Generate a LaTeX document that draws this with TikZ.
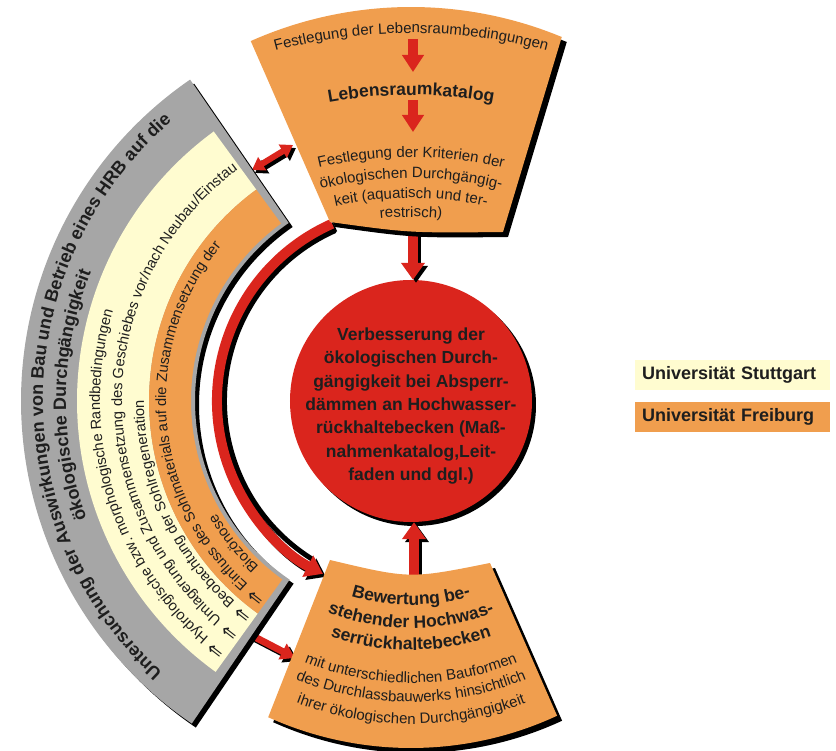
\documentclass[tikz,border=0pt]{standalone}
\usepackage{fontspec}
\setmainfont{Liberation Sans}
\newfontfamily\arrowfont{DejaVu Sans}
\usetikzlibrary{arrows.meta,decorations.text}

\definecolor{orangeF}{RGB}{240,158,78}
\definecolor{yellowS}{RGB}{255,252,208}
\definecolor{grayB}{RGB}{166,166,166}
\definecolor{redC}{RGB}{218,37,29}
\definecolor{inkC}{RGB}{30,30,30}

\newcommand\gbtxt{\fontsize{18}{21}\selectfont\bfseries}
\newcommand\lsttxt{\fontsize{14.7}{17}\selectfont}
\newcommand\lstarr{\arrowfont\fontsize{19}{19}\selectfont}
\newcommand\sectxt{\fontsize{15}{18}\selectfont}
\newcommand\secbold{\fontsize{17.5}{20}\selectfont\bfseries}

\begin{document}
\begin{tikzpicture}[
  x=1pt,y=1pt,
  shadow/.style={draw=black,transform canvas={xshift=3pt,yshift=-3pt}},
  bigarrow/.style={draw=redC,line width=10pt,-{Triangle[length=17pt,width=23pt]}},
  smallarrow/.style={draw=redC,line width=10pt,-{Triangle[length=17pt,width=21pt]}},
  linkarrow/.style={draw=redC,line width=6pt,{Triangle[length=12pt,width=15pt]}-{Triangle[length=12pt,width=15pt]}},
  sidearrow/.style={draw=redC,line width=7pt,-{Triangle[length=14pt,width=17pt]}},
  arctext/.style={decorate,decoration={text along path,text color=inkC,text align=center,text={#1}}},
  listline/.style={decorate,decoration={text along path,text color=inkC,text align=left,text={#1}}},
  legend/.style={anchor=west,minimum width=195pt,minimum height=30pt,inner xsep=7pt,text width=181pt,text=inkC,font=\fontsize{18}{20}\selectfont\bfseries}
]
  \useasboundingbox (-411,-350) rectangle (425,401);

  % goal in the middle
  \fill[black] (4,-4) circle[radius=121];
  \node[circle,fill=redC,minimum size=242pt,inner sep=0pt] (goal) at (0,0) {};
  \node[align=center,text=inkC,font=\fontsize{17.5}{23.4}\selectfont\bfseries] (goaltext) at (0,-5)
    {Verbesserung der\\ökologischen Durch-\\gängigkeit bei Absperr-\\dämmen an Hochwasser-\\rückhaltebecken (Maß-\\nahmenkatalog,Leit-\\faden und dgl.)};

  % ring on the left
  \coordinate (ringtop) at (114:194);
  \draw[black,line width=5pt] (114:186.5) arc[start angle=114,end angle=238,radius=186.5];
  \draw[bigarrow,shadow] (ringtop) arc[start angle=114,end angle=243,radius=194];
  \draw[bigarrow] (ringtop) arc[start angle=114,end angle=243,radius=194];

  % arrows into the goal
  \coordinate (topfoot) at (2,190);
  \coordinate (botfoot) at (3,-180);
  \draw[bigarrow,shadow] (topfoot) -- (topfoot |- goal.north);
  \draw[bigarrow] (topfoot) -- (topfoot |- goal.north);
  \draw[bigarrow,shadow] (botfoot) -- (botfoot |- goal.south);
  \draw[bigarrow] (botfoot) -- (botfoot |- goal.south);

  % links between the sectors
  \coordinate (linkL) at (-159,231);
  \coordinate (linkR) at (-118,256);
  \coordinate (leftout) at (-164,-232);
  \coordinate (botin) at (-116,-257);
  \draw[linkarrow,shadow] (linkL) -- (linkR);
  \draw[linkarrow] (linkL) -- (linkR);
  \draw[sidearrow,shadow] (leftout) -- (botin);
  \draw[sidearrow] (leftout) -- (botin);

  % left sector
  \foreach \s/\c in {4/black,0/grayB}
    \fill[\c,shift={(\s,-\s)}] (124.5:390) arc[start angle=124.5,end angle=235.8,radius=390]
      -- (235.8:216) arc[start angle=235.8,end angle=124.5,radius=216] -- cycle;
  \foreach \c/\ro/\ri in {yellowS/334/262,orangeF/262/220}
    \fill[\c] (126.2:\ro) arc[start angle=126.2,end angle=234.2,radius=\ro]
      -- (234.2:\ri) arc[start angle=234.2,end angle=126.2,radius=\ri] -- cycle;

  % top sector
  \foreach \s/\c in {5/black,0/orangeF}
    \fill[\c,shift={(\s,-\s)}] (114:394) arc[start angle=114,end angle=67.5,radius=394]
      -- (92,169) .. controls (-1.5,168) .. (-81,179) -- cycle;

  % bottom sector
  \foreach \s/\c in {5/black,0/orangeF}
    \fill[\c,shift={(\s,-\s)}] (-81,-159) .. controls (-1,-178) .. (79,-162)
      -- (-65.1:347) arc[start angle=-65.1,end angle=-114.3,radius=347] -- cycle;

  % steps in the top sector
  \coordinate (habA) at (2,362);
  \coordinate (habB) at (2,329);
  \coordinate (habC) at (2,301);
  \coordinate (habD) at (2,269);
  \draw[smallarrow] (habA) -- (habB);
  \draw[smallarrow] (habC) -- (habD);

  % texts of the left sector
  \path[arctext={|\gbtxt|Untersuchung der Auswirkungen von Bau und Betrieb eines HRB auf die}]
    (240:368) arc[start angle=240,end angle=118,radius=368];
  \path[arctext={|\gbtxt|ökologische Durchgängigkeit}]
    (240:345) arc[start angle=240,end angle=118,radius=345];
  \path[listline={|\lstarr|⇒ |\lsttxt|Hydrologische bzw. morphologische Randbedingungen}]
    (233.5:311) arc[start angle=233.5,end angle=110,radius=311];
  \path[listline={|\lstarr|⇒ |\lsttxt|Umlagerung und Zusammensetzung des Geschiebes vor/nach Neubau/Einstau}]
    (233.5:289) arc[start angle=233.5,end angle=110,radius=289];
  \path[listline={|\lstarr|⇒ |\lsttxt|Beobachtung der Sohlregeneration}]
    (233.5:267) arc[start angle=233.5,end angle=110,radius=267];
  \path[listline={|\lstarr|⇒ |\lsttxt|Einfluss des Sohlmaterials auf die Zusammensetzung der}]
    (233.5:245) arc[start angle=233.5,end angle=110,radius=245];
  \path[listline={|\lsttxt|Biozönose}]
    (227.5:225) arc[start angle=227.5,end angle=110,radius=225];

  % texts of the top sector
  \path[arctext={|\sectxt|Festlegung der Lebensraumbedingungen}]
    ([shift={(0,-150)}]130:518) arc[start angle=130,end angle=50,radius=518];
  \path[arctext={|\secbold|Lebensraumkatalog}]
    ([shift={(0,-150)}]130:456) arc[start angle=130,end angle=50,radius=456];
  \path[arctext={|\sectxt|Festlegung der Kriterien der}]
    ([shift={(0,-150)}]130:394) arc[start angle=130,end angle=50,radius=394];
  \path[arctext={|\sectxt|ökologischen Durchgängig-}]
    ([shift={(0,-150)}]130:373) arc[start angle=130,end angle=50,radius=373];
  \path[arctext={|\sectxt|keit (aquatisch und ter-}]
    ([shift={(0,-150)}]130:353) arc[start angle=130,end angle=50,radius=353];
  \path[arctext={|\sectxt|restrisch)}]
    ([shift={(0,-150)}]130:334) arc[start angle=130,end angle=50,radius=334];

  % texts of the bottom sector
  \path[arctext={|\secbold|Bewertung be-}]
    (-150:204) arc[start angle=-150,end angle=-30,radius=204];
  \path[arctext={|\secbold|stehender Hochwas-}]
    (-150:227) arc[start angle=-150,end angle=-30,radius=227];
  \path[arctext={|\secbold|serrückhaltebecken}]
    (-150:249) arc[start angle=-150,end angle=-30,radius=249];
  \path[arctext={|\sectxt|mit unterschiedlichen Bauformen}]
    (-150:282) arc[start angle=-150,end angle=-30,radius=282];
  \path[arctext={|\sectxt|des Durchlassbauwerks hinsichtlich}]
    (-150:301) arc[start angle=-150,end angle=-30,radius=301];
  \path[arctext={|\sectxt|ihrer ökologischen Durchgängigkeit}]
    (-150:323) arc[start angle=-150,end angle=-30,radius=323];

  % legend
  \node[legend,fill=yellowS] (stuttgart) at (224,26) {Universität Stuttgart};
  \node[legend,fill=orangeF] (freiburg) at (224,-16) {Universität Freiburg};
\end{tikzpicture}
\end{document}
